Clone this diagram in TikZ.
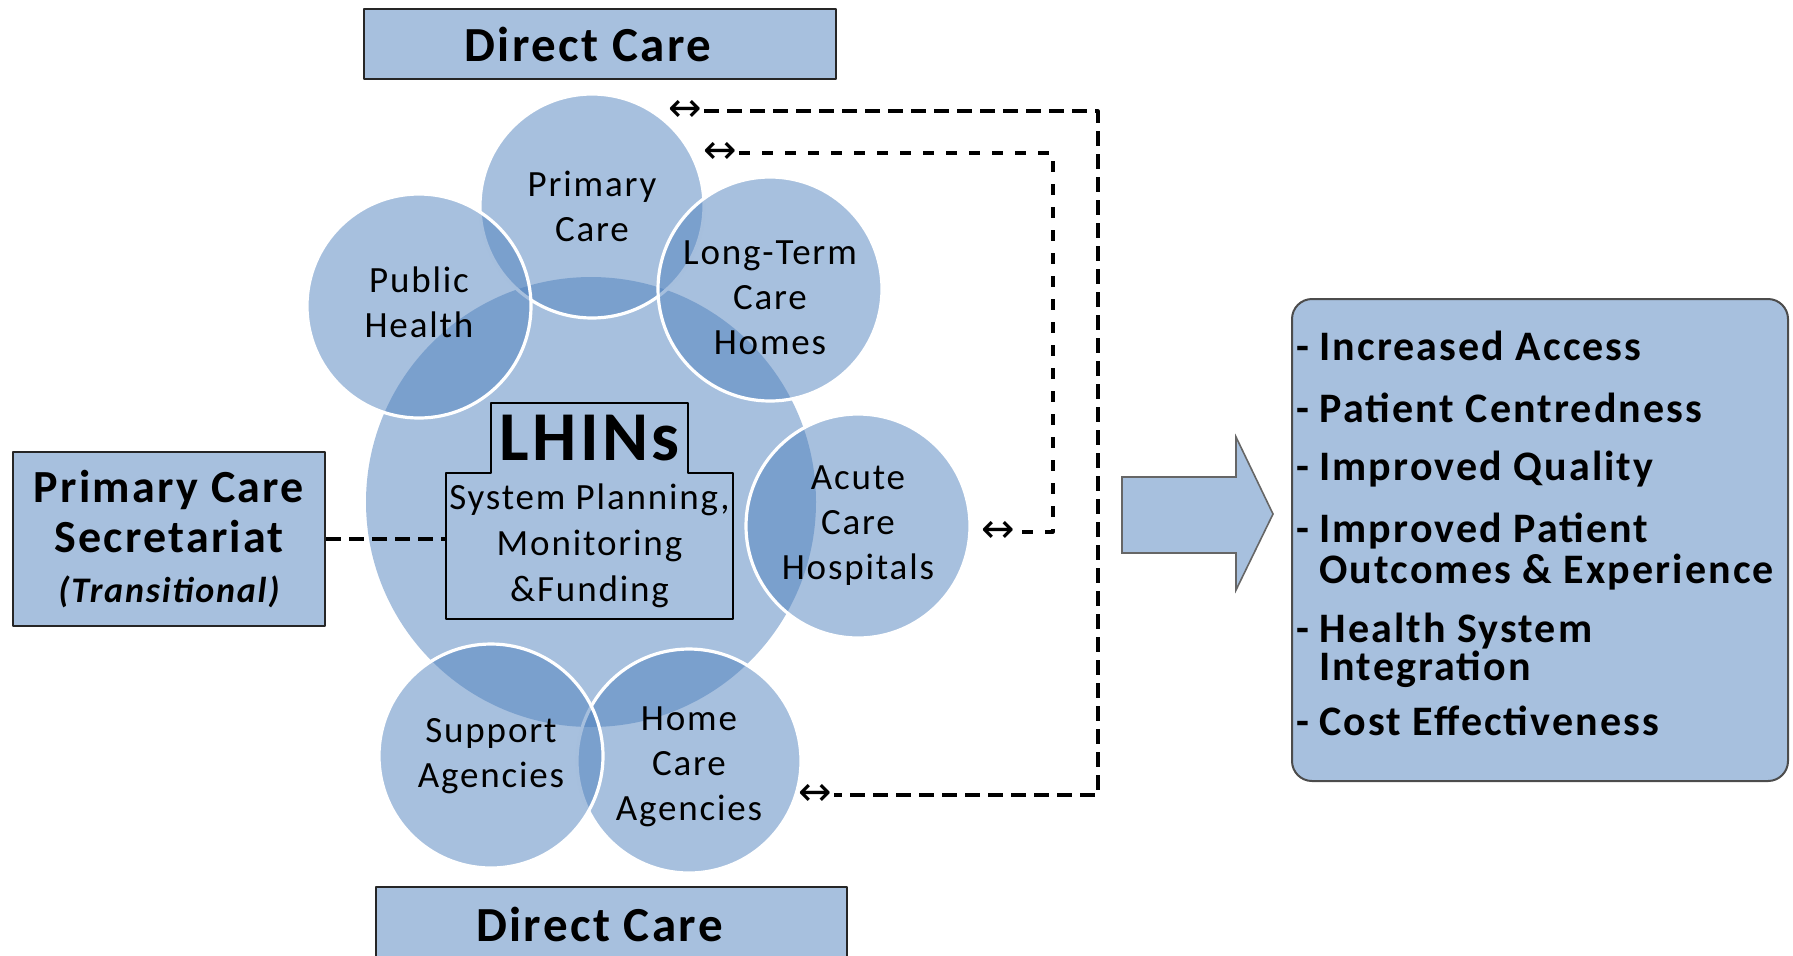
\documentclass[tikz,border=0pt]{standalone}
\usepackage{fontspec}
\setmainfont{Carlito}[LetterSpace=5]
\newfontfamily\arrowfont{DejaVu Sans}
\usetikzlibrary{positioning}
\definecolor{lhinblue}{RGB}{79,129,189}
\definecolor{paleblue}{RGB}{167,192,222}

\begin{document}
\begin{tikzpicture}[line cap=round,line join=round,x=0.5pt,y=-0.5pt,
  hub/.style={circle,minimum size=225pt,inner sep=0pt,fill=lhinblue,fill opacity=0.5},
  bubble/.style={circle,minimum size=112pt,inner sep=0pt,fill=lhinblue,fill opacity=0.5,text opacity=1,
    draw=white,line width=1.6pt,align=center,font=\fontsize{18.5}{22.5}\selectfont},
  caption/.style={draw=black!85,line width=1pt,fill=paleblue,inner sep=0pt,font=\fontsize{24.5}{28}\selectfont\bfseries},
  panel/.style={draw=black!70,line width=1pt,fill=paleblue,rounded corners=10pt},
  link/.style={dash pattern=on 7.5pt off 4pt,line width=1.6pt,line cap=butt},
  shortlink/.style={link,dash pattern=on 5.5pt off 6pt},
  twoway/.style={inner sep=1pt,font=\arrowfont\fontsize{20}{20}\selectfont},
  item/.style={anchor=base west,inner sep=0pt,font=\fontsize{21}{21}\selectfont\bfseries}]
\useasboundingbox (0,0) rectangle (1793,955);

\node[caption,minimum width=236pt,minimum height=35pt] (careTop) at (600,44) {Direct Care\hspace{12pt}\mbox{}};
\node[caption,minimum width=235.5pt,minimum height=37pt] (careBottom) at (611.5,924) {Direct Care\hspace{12pt}\mbox{}};

\node[hub] (hub) at (591,502) {};
\node[bubble] (primary) at (592,206) {Primary\\Care};
\node[bubble] (public) at (419,306) {Public\\Health\rule[-4pt]{0pt}{4pt}};
\node[bubble] (longterm) at (770,289) {\rule{0pt}{21pt}Long-Term\\Care\\Homes};
\node[bubble] (acute) at (858,526) {Acute\\Care\\Hospitals};
\node[bubble] (homecare) at (689,761) {\rule{0pt}{18pt}Home\\Care\\Agencies};
\node[bubble] (support) at (491,756) {Support\\Agencies};

\node[inner sep=0pt,minimum width=143.5pt,minimum height=73pt,align=center,
  font=\fontsize{18.5}{23}\selectfont] (planning) at (589.5,546) {System Planning,\\Monitoring\\\&Funding};
\node[inner sep=0pt,minimum width=98.5pt,minimum height=34.5pt,
  font=\fontsize{35}{36}\selectfont\bfseries] (lhins) [above=0pt of planning] {LHINs};
\draw[line width=1pt] (planning.south west) -- (planning.north west) -- (lhins.south west) -- (lhins.north west)
  -- (lhins.north east) -- (lhins.south east) -- (planning.north east) -- (planning.south east) -- cycle;

\node[caption,minimum width=156pt,minimum height=87pt,align=center,font=\fontsize{23}{25}\selectfont\bfseries] (pcs) at (169,539)
  {Primary Care\\Secretariat\\{\fontsize{18}{25}\selectfont\itshape(Transitional)}};
\draw[link] (pcs.east) -- (pcs.east -| planning.west);

\node[twoway] (pcOuter) at (685,111) {↔};
\node[twoway] (pcInner) at (720,153) {↔};
\node[twoway] (acuteLink) at (998,532) {↔};
\node[twoway] (homeLink) at (815,795) {↔};
\coordinate (outerRail) at (1098,450);
\coordinate (innerRail) at (1053,340);
\draw[link] (pcOuter.east) -| (outerRail) |- (homeLink.east);
\draw[shortlink] (pcInner.east) -| (innerRail) |- (acuteLink.east);

\filldraw[fill=paleblue,draw=black!60,line width=0.8pt,line join=miter] (1122,477) -- (1236,477) -- (1236,437)
  -- (1273,514) -- (1236,590) -- (1236,553) -- (1122,553) -- cycle;

\node[panel,minimum width=248pt,minimum height=241pt] (gains) at (1540,540) {};
\foreach \n/\y/\t in {1/360/{\llap{-\hspace{5pt}}Increased Access},
    2/422/{\llap{-\hspace{5pt}}Patient Centredness},
    3/480/{\llap{-\hspace{5pt}}Improved Quality},
    4/542/{\llap{-\hspace{5pt}}Improved Patient},
    5/583/{Outcomes \& Experience},
    6/642/{\llap{-\hspace{5pt}}Health System},
    7/680/{Integration},
    8/735/{\llap{-\hspace{5pt}}Cost Effectiveness}}
  \node[item] (gain\n) at (1319,\y) {\t};
\end{tikzpicture}
\end{document}
